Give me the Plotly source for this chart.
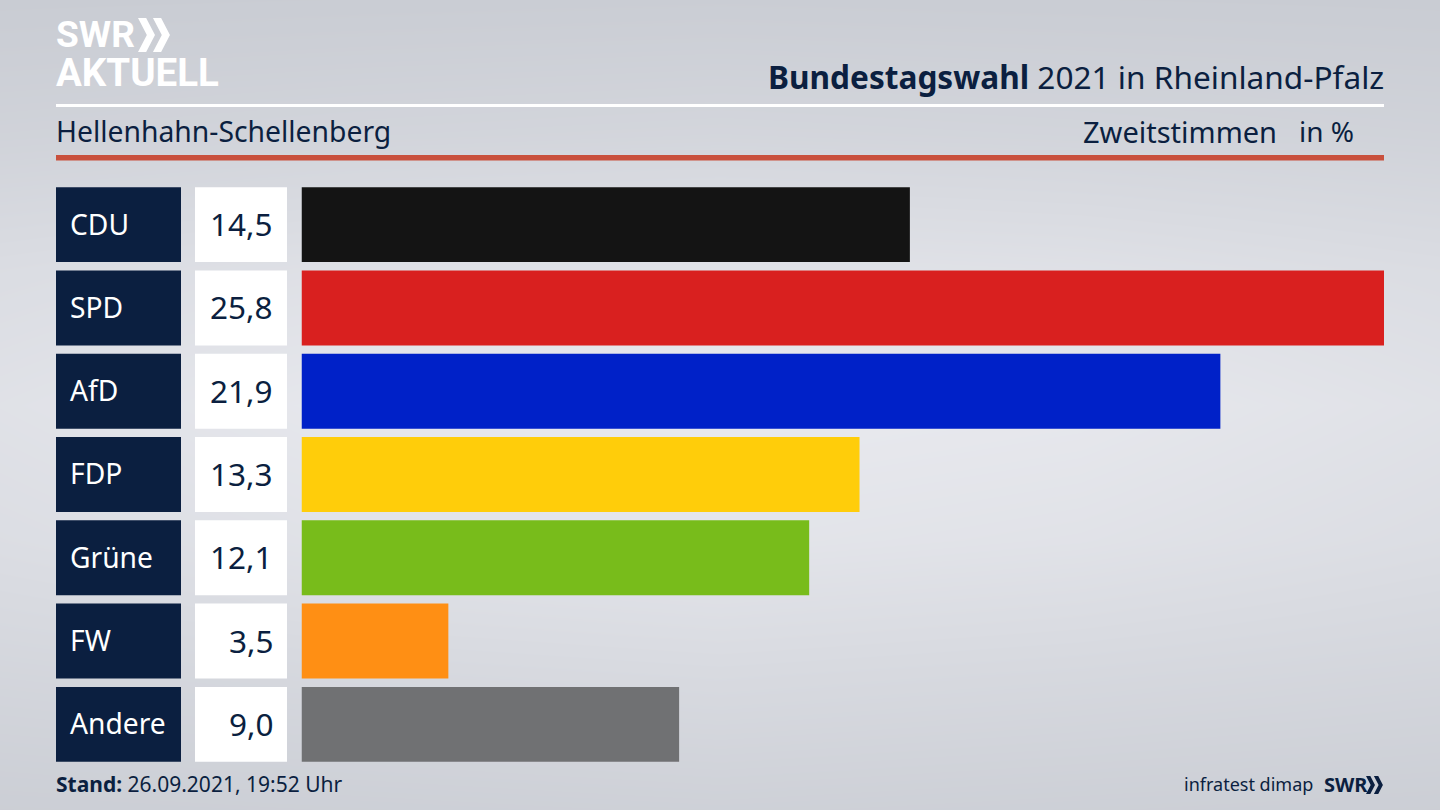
import plotly.graph_objects as go

# Parteien und Werte
PARTIES = ['CDU', 'SPD', 'AfD', 'FDP', 'Grüne', 'FW', 'Andere']
VALUES = [14.5, 25.8, 21.9, 13.3, 12.1, 3.5, 9.0]
BAR_COLOURS = ['#141414', '#d9201f', '#0021c8', '#ffcd0a', '#78bc1b', '#ff8f14', '#707173']

BG_X = [0, 360, 720, 1080, 1440]
BG_Y = [0, 135, 270, 405, 540, 675, 810]
BG_Z = [
    [0.00, 0.02, 0.04, 0.02, 0.00],
    [0.22, 0.28, 0.32, 0.28, 0.22],
    [0.55, 0.68, 0.74, 0.68, 0.55],
    [0.72, 0.92, 1.00, 0.92, 0.72],
    [0.58, 0.74, 0.82, 0.74, 0.58],
    [0.32, 0.40, 0.46, 0.40, 0.32],
    [0.08, 0.12, 0.16, 0.12, 0.08],
]

NAVY = '#0b1f40'
FONT = 'Noto Sans'
LOGO_FONT = 'Roboto'
W, H = 1440, 810


def px_x(x):
    return x / W


def px_y(y):
    return 1 - y / H


def label(x, y, text, size, colour=NAVY, anchor='left', yref='paper', family=FONT):
    # Annotationen haben etwa 2 px Innenabstand
    x = x - 2 if anchor == 'left' else x + 2
    return dict(x=px_x(x), y=px_y(y) if yref == 'paper' else y, xref='paper', yref=yref,
                text=text, showarrow=False, xanchor=anchor, yanchor='middle',
                font=dict(family=family, size=size, color=colour))


def chevrons(x, y, h, colour):
    # die zwei Pfeile im SWR-Logo
    w = h * 0.5
    t = h * 0.24
    path = ''
    for off in (0, h * 0.44):
        x0 = x + off
        path += (f'M {x0} {y} L {x0 + t} {y} L {x0 + w} {y + h / 2} '
                 f'L {x0 + t} {y + h} L {x0} {y + h} L {x0 + w - t} {y + h / 2} Z ')
    return dict(type='path', xref='x', yref='y', path=path, fillcolor=colour, line_width=0)


fig = go.Figure()

fig.add_trace(go.Heatmap(x=BG_X, y=BG_Y, z=BG_Z, zsmooth='best', showscale=False, hoverinfo='skip',
                         zmin=0, zmax=1, colorscale=[[0, '#c9ccd3'], [1, '#e9eaef']]))

fig.add_trace(go.Bar(x=[1] * len(PARTIES), y=PARTIES, orientation='h', xaxis='x2', yaxis='y2',
                     marker=dict(color=NAVY, line_width=0), hoverinfo='skip'))
fig.add_trace(go.Bar(x=[1] * len(PARTIES), y=PARTIES, orientation='h', xaxis='x3', yaxis='y2',
                     marker=dict(color='#ffffff', line_width=0), hoverinfo='skip'))
fig.add_trace(go.Bar(x=VALUES, y=PARTIES, orientation='h', xaxis='x4', yaxis='y2',
                     marker=dict(color=BAR_COLOURS, line_width=0)))

annotations = [
    label(1384, 76, '<b>Bundestagswahl</b> 2021 in Rheinland-Pfalz', 31.6, anchor='right'),
    label(56, 131, 'Hellenhahn-Schellenberg', 28.3),
    label(1277, 131, 'Zweitstimmen', 29, anchor='right'),
    label(1354, 131, 'in %', 28, anchor='right'),
    label(56, 784, '<b>Stand:</b> 26.09.2021, 19:52 Uhr', 21),
    label(1313, 784, 'infratest dimap', 18, anchor='right'),
    label(1324, 784, '<b>SWR</b>', 20),
    label(56, 35, '<b>SWR</b>', 37, colour='#ffffff', family=LOGO_FONT),
    label(56, 72, '<b>AKTUELL</b>', 38.5, colour='#ffffff', family=LOGO_FONT),
]
for party, value in zip(PARTIES, VALUES):
    party_label = label(70, party, party, 28.2, colour='#ffffff', yref='y2')
    party_label['yshift'] = 1
    value_label = label(273, party, f'{value:.1f}'.replace('.', ','), 31.5, anchor='right', yref='y2')
    value_label['yshift'] = 1
    annotations += [party_label, value_label]

shapes = [
    dict(type='rect', xref='x', yref='y', x0=56, x1=1384, y0=104, y1=107,
         fillcolor='#ffffff', line_width=0),
    dict(type='rect', xref='x', yref='y', x0=56, x1=1384, y0=155, y1=160.5,
         fillcolor='#c9503d', line_width=0),
    chevrons(138, 18, 34, '#ffffff'),
    chevrons(1366, 776, 18, NAVY),
]

hidden = dict(visible=False, fixedrange=True)
fig.update_layout(
    width=W, height=H,
    margin=dict(l=0, r=0, t=0, b=0),
    paper_bgcolor='#dcdee3',
    plot_bgcolor='rgba(0,0,0,0)',
    showlegend=False,
    bargap=0.1,
    xaxis=dict(range=[0, W], domain=[0, 1], **hidden),
    yaxis=dict(range=[H, 0], domain=[0, 1], **hidden),
    xaxis2=dict(range=[0, 1], domain=[px_x(56), px_x(181)], anchor='y2', **hidden),
    xaxis3=dict(range=[0, 1], domain=[px_x(195), px_x(287)], anchor='y2', **hidden),
    xaxis4=dict(range=[0, max(VALUES)], domain=[px_x(301.5), px_x(1384)], anchor='y2', **hidden),
    yaxis2=dict(domain=[px_y(766), px_y(183)], anchor='x2', autorange='reversed',
                categoryorder='array', categoryarray=PARTIES, **hidden),
    annotations=annotations,
    shapes=shapes,
)

fig.write_html("out.html", config={'displayModeBar': False},
               post_script="document.body.style.margin='0';")
